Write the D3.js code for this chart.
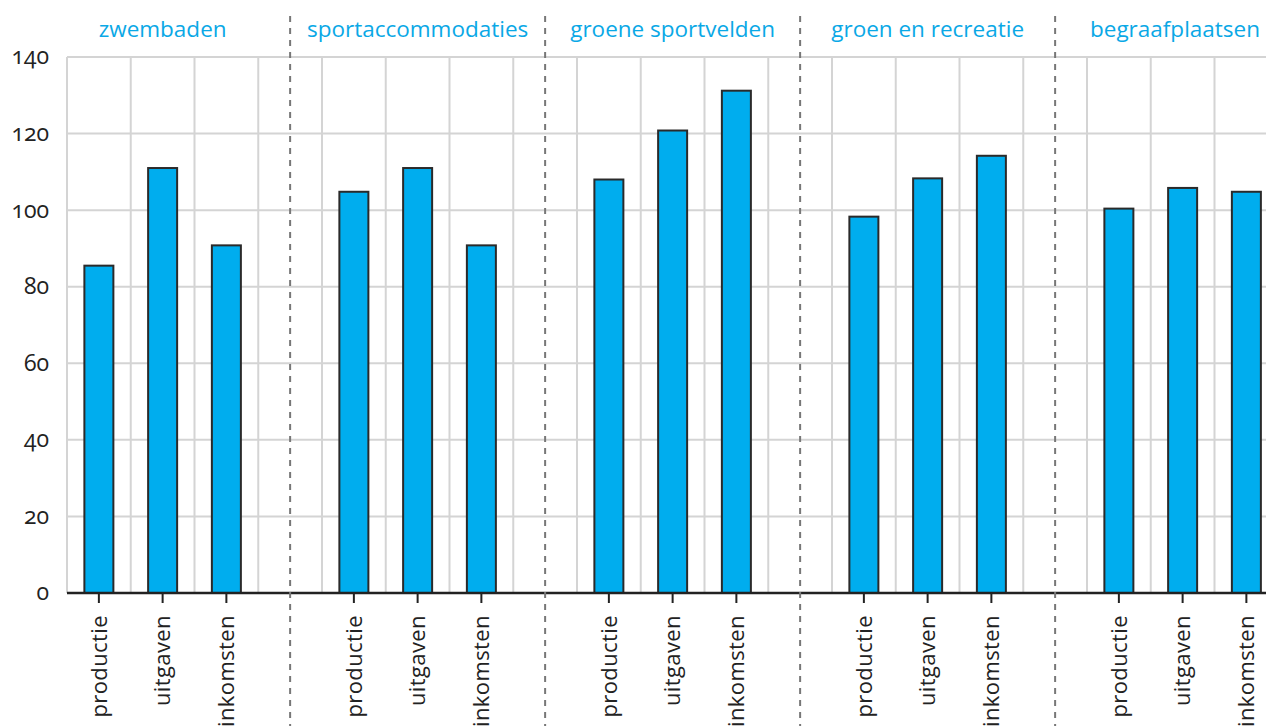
<!DOCTYPE html>
<html>
<head>
<meta charset="utf-8">
<script src="https://cdn.jsdelivr.net/npm/d3@7"></script>
<style>
  body { margin: 0; background: #fff; overflow: hidden; }
  svg { display: block; font-family: "Open Sans", sans-serif; }
</style>
</head>
<body>
<div id="chart"></div>
<script>
// data
const groups = ["zwembaden", "sportaccommodaties", "groene sportvelden", "groen en recreatie", "begraafplaatsen"];
const measures = ["productie", "uitgaven", "inkomsten"];
const values = [
  [85.5, 111, 90.8],
  [104.8, 111, 90.8],
  [108, 120.8, 131.2],
  [98.3, 108.3, 114.2],
  [100.4, 105.8, 104.8]
];
const yTicks = [0, 20, 40, 60, 80, 100, 120, 140];

const width = 1266, height = 726;
const margin = { left: 67, top: 57, bottom: 133 };
const slotsPerGroup = 4;

const svg = d3.select('#chart')
  .append('svg')
  .attr('width', width)
  .attr('height', height);

// one slot per bar plus an empty slot after each group
const slots = [];
groups.forEach((g, gi) => {
  for (let i = 0; i < slotsPerGroup; i++) slots.push(`${gi}-${i}`);
});

const x = d3.scaleBand()
  .domain(slots)
  .range([margin.left, margin.left + slots.length * 63.75])
  .padding(0);

const y = d3.scaleLinear()
  .domain([0, 140])
  .range([height - margin.bottom, margin.top]);

const bw = x.bandwidth();
const gridColor = '#d4d4d4';
const blue = '#00adee';

// horizontal grid
svg.append('g')
  .selectAll('line')
  .data(yTicks.slice(1))
  .join('line')
  .attr('x1', margin.left)
  .attr('x2', width)
  .attr('y1', d => y(d))
  .attr('y2', d => y(d))
  .attr('stroke', gridColor)
  .attr('stroke-width', 2);

// vertical grid at slot edges
svg.append('g')
  .selectAll('line')
  .data(slots)
  .join('line')
  .attr('x1', d => x(d))
  .attr('x2', d => x(d))
  .attr('y1', y(140))
  .attr('y2', y(0))
  .attr('stroke', gridColor)
  .attr('stroke-width', 2);

// y labels
svg.append('g')
  .selectAll('text')
  .data(yTicks)
  .join('text')
  .attr('x', 49)
  .attr('y', d => y(d))
  .attr('dy', '0.32em')
  .attr('text-anchor', 'end')
  .attr('font-size', 23)
  .attr('fill', '#222')
  .style('font-variant-numeric', 'oldstyle-nums')
  .text(d => d);

// bars
const bars = [];
values.forEach((row, gi) => row.forEach((v, mi) => bars.push({ key: `${gi}-${mi}`, v, m: measures[mi] })));

svg.append('g')
  .selectAll('rect')
  .data(bars)
  .join('rect')
  .attr('x', d => x(d.key) + bw / 2 - 14.5)
  .attr('width', 29)
  .attr('y', d => y(d.v))
  .attr('height', d => y(0) - y(d.v))
  .attr('fill', blue)
  .attr('stroke', '#2a2a2a')
  .attr('stroke-width', 2);

// baseline
svg.append('line')
  .attr('x1', margin.left)
  .attr('x2', width)
  .attr('y1', y(0))
  .attr('y2', y(0))
  .attr('stroke', '#222')
  .attr('stroke-width', 2.5);

// ticks and rotated labels
const tickG = svg.append('g')
  .selectAll('g')
  .data(bars)
  .join('g')
  .attr('transform', d => `translate(${x(d.key) + bw / 2},${y(0)})`);

tickG.append('line')
  .attr('y1', 0)
  .attr('y2', 10)
  .attr('stroke', '#222')
  .attr('stroke-width', 2);

tickG.append('text')
  .attr('transform', 'translate(0,22) rotate(-90)')
  .attr('dy', '0.35em')
  .attr('text-anchor', 'end')
  .attr('font-size', 22)
  .attr('letter-spacing', 0.4)
  .attr('fill', '#222')
  .text(d => d.m);

// dashed group separators
svg.append('g')
  .selectAll('line')
  .data(groups)
  .join('line')
  .attr('x1', (d, gi) => x(`${gi}-3`) + bw / 2)
  .attr('x2', (d, gi) => x(`${gi}-3`) + bw / 2)
  .attr('y1', 16)
  .attr('y2', height)
  .attr('stroke', '#777')
  .attr('stroke-width', 2)
  .attr('stroke-dasharray', '6,6');

// group titles over the middle bar, kept inside the right edge
svg.append('g')
  .selectAll('text')
  .data(groups)
  .join('text')
  .attr('y', 37)
  .attr('text-anchor', 'middle')
  .attr('font-size', 22.5)
  .attr('fill', '#0aa8e6')
  .text(d => d)
  .each(function (d, gi) {
    const w = this.getComputedTextLength();
    const cx = Math.min(x(`${gi}-1`) + bw / 2, width - 6 - w / 2);
    d3.select(this).attr('x', cx);
  });
</script>
</body>
</html>
